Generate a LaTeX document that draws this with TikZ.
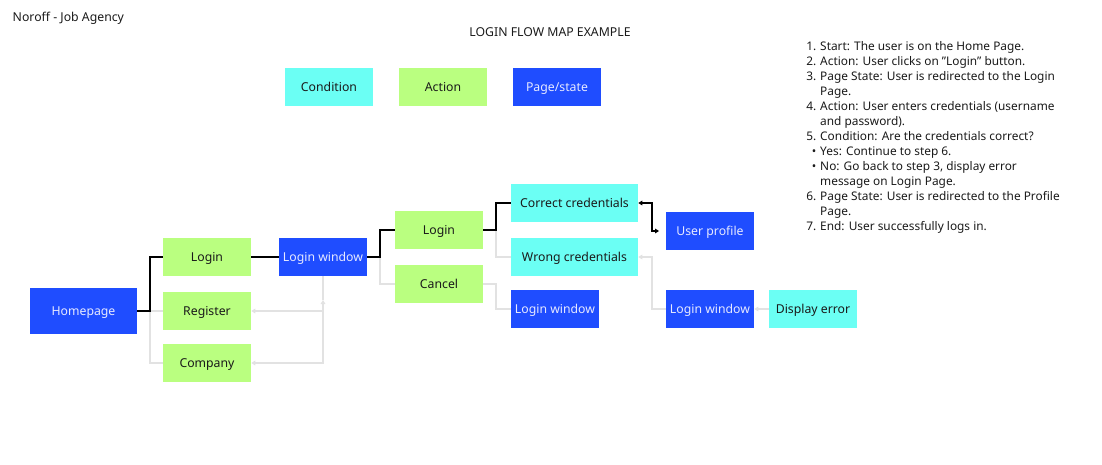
\documentclass[tikz,border=0pt]{standalone}
\usepackage{fontspec}
\setmainfont{Noto Sans}
\usetikzlibrary{arrows.meta}

\definecolor{condcol}{HTML}{6BFFF4}
\definecolor{actcol}{HTML}{BAFF80}
\definecolor{pagecol}{HTML}{1F4DFF}
\definecolor{pagetext}{HTML}{E6E9FF}
\definecolor{linkgray}{HTML}{E2E2E2}
\definecolor{inkcol}{HTML}{1A1A1A}

\begin{document}
\begin{tikzpicture}[x=0.75pt,y=-0.75pt,
    font=\fontsize{9.2}{11.25}\selectfont,
    box/.style={minimum width=66pt,minimum height=28.5pt,inner sep=0pt,
        text height=1.5ex,text depth=0.35ex},
    cond/.style={box,fill=condcol,text=inkcol},
    act/.style={box,fill=actcol,text=inkcol},
    page/.style={box,fill=pagecol,text=pagetext},
    main/.style={line width=0.9pt,black},
    side/.style={line width=0.9pt,linkgray},
    smalltip/.tip={Triangle[length=3pt,width=3.5pt]}
]
    \useasboundingbox (0,0) rectangle (1102,464);

    % Titles
    \node[anchor=west,text=inkcol] (title) at (8,18) {Noroff - Job Agency};
    \node[text=inkcol] (head) at (550,32) {LOGIN FLOW MAP EXAMPLE};

    % Legend
    \node[cond] (lcond) at (329,87) {Condition};
    \node[act]  (lact)  at (443,87) {Action};
    \node[page] (lpage) at (557,87) {Page/state};

    % Pages
    \node[page,minimum width=80.25pt,minimum height=34.5pt] (hp) at (83.5,311) {Homepage};
    \node[page] (lw1) at (323,257) {Login window};
    \node[page] (lw2) at (555,309) {Login window};
    \node[page] (prof) at (710,231) {User profile};
    \node[page] (lw3) at (710,309) {Login window};

    % Actions
    \node[act] (login1) at (207,257) {Login};
    \node[act] (reg)    at (207,311) {Register};
    \node[act] (comp)   at (207,363) {Company};
    \node[act] (login2) at (439,230) {Login};
    \node[act] (cancel) at (439,284) {Cancel};

    % Conditions
    \node[cond,minimum width=95.25pt] (right) at (574.5,203) {Correct credentials};
    \node[cond,minimum width=95.25pt] (wrong) at (574.5,257) {Wrong credentials};
    \node[cond] (err) at (813,309) {Display error};

    % branching coordinates
    \coordinate (b1) at (150,311);
    \coordinate (b2) at (323,311);
    \coordinate (b3) at (380,257);
    \coordinate (b4) at (496,230);
    \coordinate (b5) at (496,284);
    \coordinate (b6) at (652,203);
    \coordinate (b7) at (652,257);
    \coordinate (m1) at (323,300);

    % Lines (grey)
    \draw[side] (b1) -- (reg);
    \draw[side] (b1) |- (comp);
    \draw[side,{smalltip}-] (reg) -- (b2);
    \draw[side,{smalltip}-{smalltip}] (comp) -| (m1);
    \draw[side] (m1) -- (lw1);
    \draw[side] (b3) |- (cancel);
    \draw[side] (b4) |- (wrong);
    \draw[side] (cancel) -- (b5) |- (lw2);
    \draw[side,{smalltip}-] (wrong) -- (b7) |- (lw3);
    \draw[side,{smalltip}-] (lw3) -- (err);

    % Lines (black)
    \draw[main] (hp) -- (b1) |- (login1);
    \draw[main] (login1) -- (lw1);
    \draw[main] (lw1) -- (b3) |- (login2);
    \draw[main] (login2) -- (b4) |- (right);
    \draw[main,{smalltip}-{smalltip},shorten >=5pt] (right) -- (b6) |- (prof);

    % Steps
    \node[anchor=north west,inner sep=0pt,text=inkcol,
          font=\fontsize{8.9}{11.25}\selectfont] (steps) at (806,40) {%
        \begin{tabular}{@{}r@{\hspace{3pt}}l@{}}
        1. & Start: The user is on the Home Page.\\
        2. & Action: User clicks on \symbol{34}Login\symbol{34} button.\\
        3. & Page State: User is redirected to the Login\\
           & Page.\\
        4. & Action: User enters credentials (username\\
           & and password).\\
        5. & Condition: Are the credentials correct?\\
        \textbullet & Yes: Continue to step 6.\\
        \textbullet & No: Go back to step 3, display error\\
           & message on Login Page.\\
        6. & Page State: User is redirected to the Profile\\
           & Page.\\
        7. & End: User successfully logs in.
        \end{tabular}};
\end{tikzpicture}
\end{document}
